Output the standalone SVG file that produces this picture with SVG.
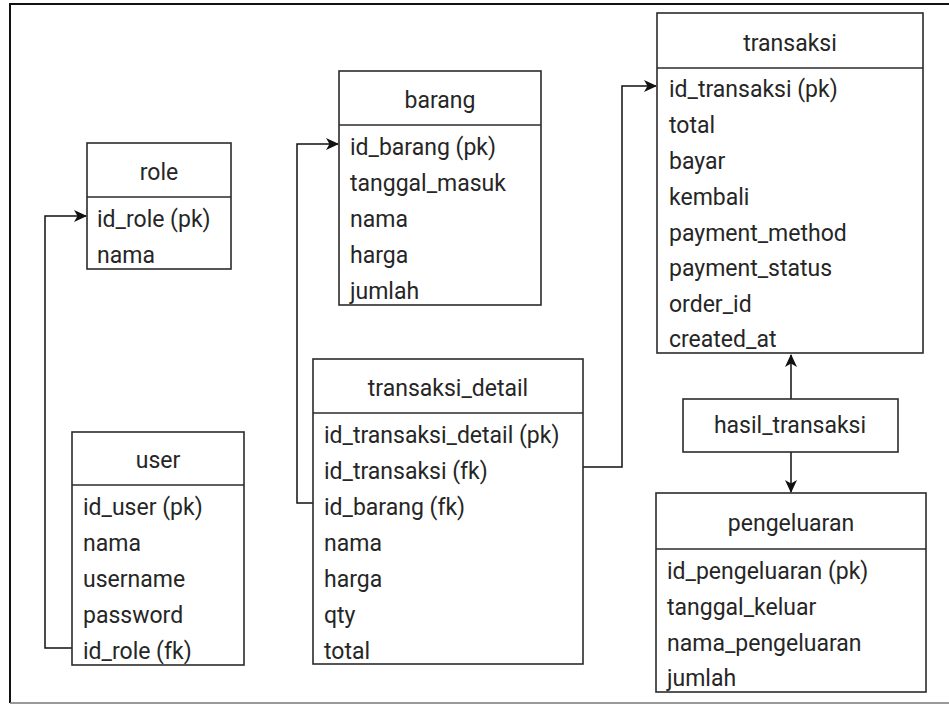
<svg xmlns="http://www.w3.org/2000/svg" width="949" height="704" viewBox="0 0 949 704">
<style>
.box{fill:#fff;stroke:#2b2b2b;stroke-width:1.6}
.sep{stroke:#2b2b2b;stroke-width:1.6}
.t{font-family:Roboto,"Liberation Sans",Arial,sans-serif;font-size:23px;fill:#262626}
.h{text-anchor:middle}
.c{fill:none;stroke:#111;stroke-width:1.5}
</style>
<defs>
<marker id="arr" markerUnits="userSpaceOnUse" markerWidth="16" markerHeight="14" refX="12" refY="6" orient="auto">
<path d="M0,0 L13,6 L0,12 L3.5,6 z" fill="#111"/>
</marker>
</defs>
<rect width="949" height="704" fill="#fff"/>
<g id="frame">
<line x1="9" y1="4" x2="949" y2="4" stroke="#111" stroke-width="2"/>
<line x1="10" y1="4" x2="10" y2="703" stroke="#111" stroke-width="2"/>
<line x1="10" y1="703" x2="949" y2="703" stroke="#777" stroke-width="1.5"/>
</g>
<g id="connectors">
<path class="c" d="M72,648 H45 V216 H86" marker-end="url(#arr)"/>
<path class="c" d="M313,503 H297 V144 H338" marker-end="url(#arr)"/>
<path class="c" d="M583,467 H622 V86 H656" marker-end="url(#arr)"/>
<path class="c" d="M791,399 V355" marker-end="url(#arr)"/>
<path class="c" d="M791,452 V492" marker-end="url(#arr)"/>
</g>
<g id="role">
<rect class="box" x="87" y="143" width="144" height="126"/>
<line class="sep" x1="87" y1="197" x2="231" y2="197"/>
<text class="t h" x="159" y="180">role</text>
<text class="t" x="97" y="227">id_role (pk)</text>
<text class="t" x="97" y="263">nama</text>
</g>
<g id="user">
<rect class="box" x="72" y="432" width="172" height="233"/>
<line class="sep" x1="72" y1="485" x2="244" y2="485"/>
<text class="t h" x="158" y="468">user</text>
<text class="t" x="83" y="515">id_user (pk)</text>
<text class="t" x="83" y="551">nama</text>
<text class="t" x="83" y="587">username</text>
<text class="t" x="83" y="623">password</text>
<text class="t" x="83" y="659">id_role (fk)</text>
</g>
<g id="barang">
<rect class="box" x="339" y="71" width="202" height="234"/>
<line class="sep" x1="339" y1="125" x2="541" y2="125"/>
<text class="t h" x="440" y="108">barang</text>
<text class="t" x="350" y="155">id_barang (pk)</text>
<text class="t" x="350" y="191">tanggal_masuk</text>
<text class="t" x="350" y="227">nama</text>
<text class="t" x="350" y="263">harga</text>
<text class="t" x="350" y="299">jumlah</text>
</g>
<g id="transaksi_detail">
<rect class="box" x="313" y="359" width="270" height="305"/>
<line class="sep" x1="313" y1="413" x2="583" y2="413"/>
<text class="t h" x="448" y="396">transaksi_detail</text>
<text class="t" x="324" y="443">id_transaksi_detail (pk)</text>
<text class="t" x="324" y="479">id_transaksi (fk)</text>
<text class="t" x="324" y="515">id_barang (fk)</text>
<text class="t" x="324" y="551">nama</text>
<text class="t" x="324" y="587">harga</text>
<text class="t" x="324" y="623">qty</text>
<text class="t" x="324" y="659">total</text>
</g>
<g id="transaksi">
<rect class="box" x="657" y="13" width="266" height="340"/>
<line class="sep" x1="657" y1="68" x2="923" y2="68"/>
<text class="t h" x="790" y="51">transaksi</text>
<text class="t" x="669" y="97">id_transaksi (pk)</text>
<text class="t" x="669" y="133">total</text>
<text class="t" x="669" y="169">bayar</text>
<text class="t" x="669" y="205">kembali</text>
<text class="t" x="669" y="241">payment_method</text>
<text class="t" x="669" y="276">payment_status</text>
<text class="t" x="669" y="312">order_id</text>
<text class="t" x="669" y="347">created_at</text>
</g>
<g id="hasil_transaksi">
<rect class="box" x="683" y="399" width="215" height="53"/>
<text class="t h" x="790" y="433">hasil_transaksi</text>
</g>
<g id="pengeluaran">
<rect class="box" x="656" y="493" width="270" height="199"/>
<line class="sep" x1="656" y1="549" x2="926" y2="549"/>
<text class="t h" x="791" y="531">pengeluaran</text>
<text class="t" x="667" y="579">id_pengeluaran (pk)</text>
<text class="t" x="667" y="615">tanggal_keluar</text>
<text class="t" x="667" y="651">nama_pengeluaran</text>
<text class="t" x="667" y="686">jumlah</text>
</g>
</svg>
